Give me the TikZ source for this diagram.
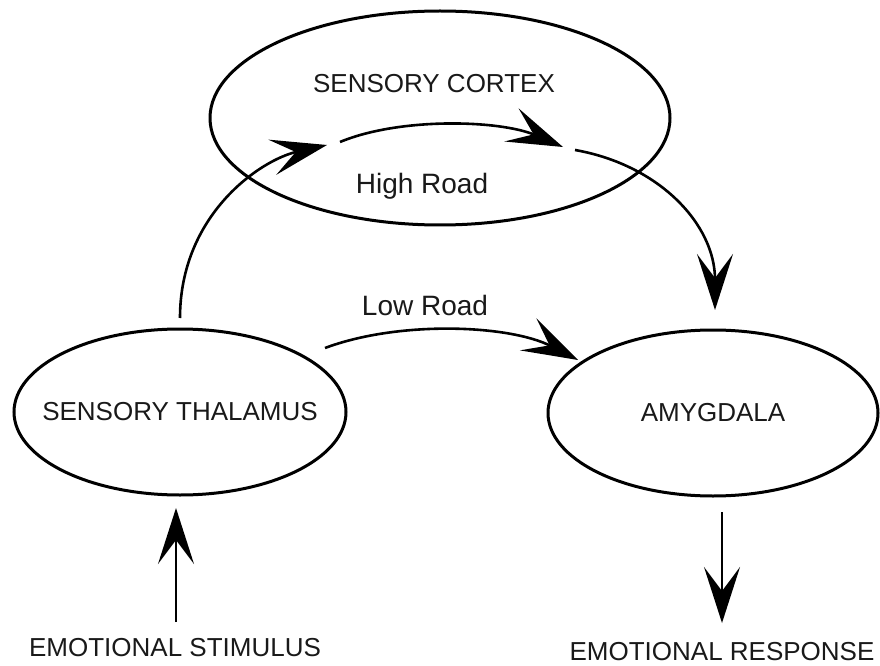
\documentclass[tikz,border=0pt]{standalone}
\usepackage{fontspec}
\setmainfont{Liberation Sans}
\usetikzlibrary{shapes.geometric,arrows.meta}
\begin{document}
\begin{tikzpicture}[x=1pt,y=1pt,
  region/.style={draw=black,line width=3pt,ellipse,inner sep=0pt},
  lbl/.style={font=\fontsize{26}{30}\selectfont,text=black!90,inner sep=0pt},
  road/.style={font=\fontsize{28}{32}\selectfont,text=black!90,inner sep=0pt},
  conn/.style={line width=2.6pt,-{Stealth[length=56pt,width=36pt,inset=24pt]}}]
\useasboundingbox (0,0) rectangle (880,665);
\node[region,minimum width=460pt,minimum height=214pt] (cortex) at (440,547) {};
\node[region,minimum width=332pt,minimum height=166pt] (thal) at (180,253) {};
\node[region,minimum width=330pt,minimum height=166pt] (amyg) at (713,252) {};
\node[lbl] (tcortex) at (434,581) {SENSORY CORTEX};
\node[lbl] (tthal) at (180,253) {SENSORY THALAMUS};
\node[lbl] (tamyg) at (713,252) {AMYGDALA};
\node[lbl] (stim) at (175,17) {EMOTIONAL STIMULUS};
\node[lbl] (resp) at (722,13) {EMOTIONAL RESPONSE};
\node[road] (high) at (422,479) {High Road};
\node[road] (low) at (425,360) {Low Road};
\coordinate (s0) at (176,43);
\coordinate (s1) at (176,157);
\coordinate (r0) at (722,153);
\coordinate (r1) at (722,42);
\coordinate (l0) at (325,317);
\coordinate (l1) at (578,305);
\coordinate (h0) at (180,347);
\coordinate (h1) at (327,520);
\coordinate (h2) at (340,523);
\coordinate (h3) at (563,518);
\coordinate (h4) at (575,515);
\coordinate (h5) at (715,355);
\draw[conn,line width=2pt] (s0) -- (s1);
\draw[conn,line width=2pt] (r0) -- (r1);
\draw[conn] (l0) .. controls (400,345) and (510,340) .. (l1);
\draw[conn] (h0) .. controls (180,450) and (260,505) .. (h1);
\draw[conn] (h2) .. controls (400,548) and (500,545) .. (h3);
\draw[conn] (h4) .. controls (660,500) and (715,440) .. (h5);
\end{tikzpicture}
\end{document}
